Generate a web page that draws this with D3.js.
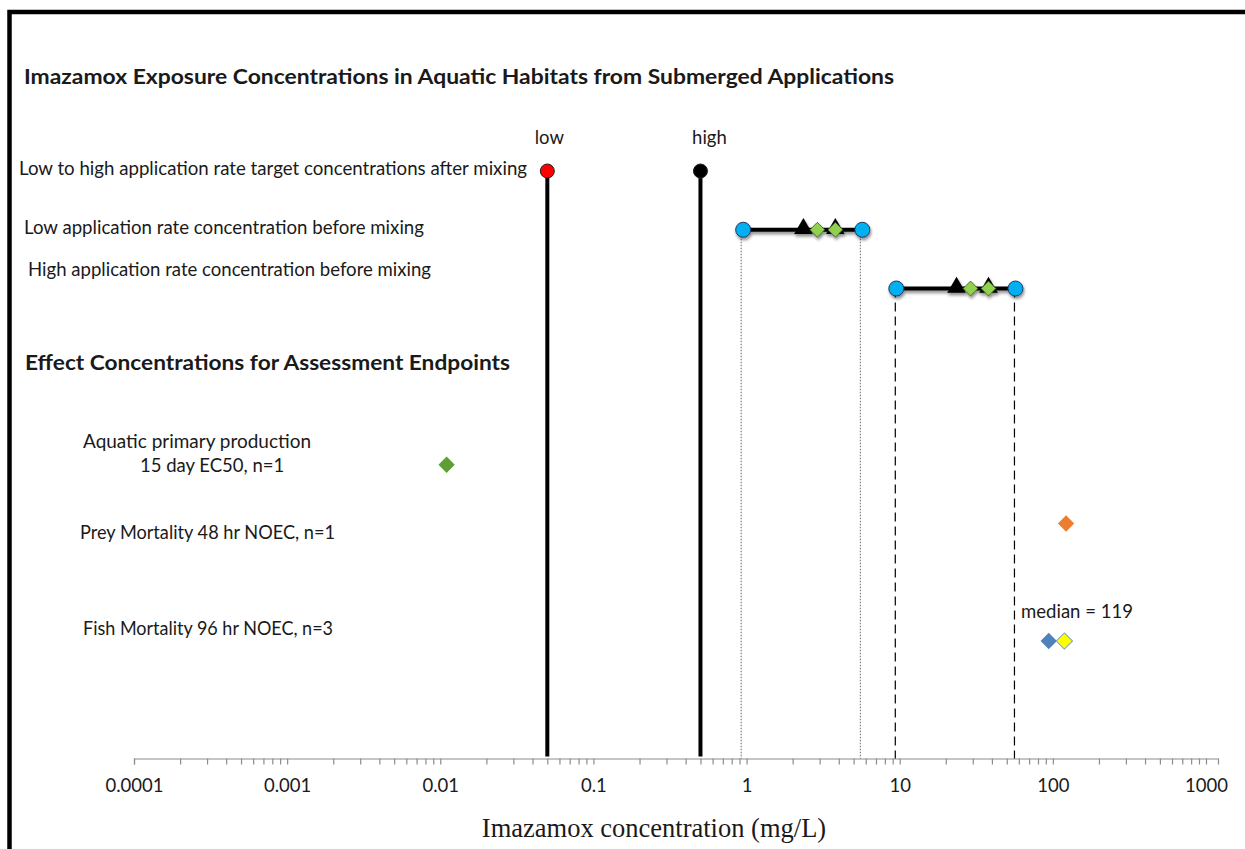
<!DOCTYPE html>
<html>
<head>
<meta charset="utf-8">
<script src="https://cdn.jsdelivr.net/npm/d3@7"></script>
<style>
  html, body { margin: 0; padding: 0; background: #fff; }
  svg { display: block; }
  .lbl { font-family: Lato, "Open Sans", sans-serif; fill: #1a1a1a; }
</style>
</head>
<body>
<svg id="chart" width="1245" height="849"></svg>
<script>
// ---- data (mg/L) ----
const rowSlots = ["target", "lowRate", "highRate", "s1", "s2", "primary", "prey", "s3", "fish", "s4", "axis"];

const targetLow = 0.05;
const targetHigh = 0.5;

const lowRateRange = [0.95, 5.7];
const lowRateTriangles = [2.35, 3.8];
const lowRateDiamonds = [2.9, 3.8];

const highRateRange = [9.5, 57];
const highRateTriangles = [23.5, 38];
const highRateDiamonds = [29, 38];

const primaryEC50 = [0.011];
const preyNOEC = [122];
const fishNOEC = [94];
const fishMedian = 119;

const majorTicks = [0.0001, 0.001, 0.01, 0.1, 1, 10, 100, 1000];
const majorTickLabels = ["0.0001", "0.001", "0.01", "0.1", "1", "10", "100", "1000"];

// ---- layout ----
const svg = d3.select("#chart");
const x = d3.scaleLog().domain([0.0001, 1198]).range([134, 1218]);
const y = d3.scalePoint().domain(rowSlots).range([171, 758.5]);
const axisY = y("axis");

// frame
svg.append("rect")
  .attr("x", 9.5).attr("y", 12)
  .attr("width", 1400).attr("height", 1000)
  .attr("fill", "none").attr("stroke", "#000").attr("stroke-width", 4.5);

// drop shadow for exposure markers
const defs = svg.append("defs");
const f = defs.append("filter").attr("id", "shadow")
  .attr("x", "-50%").attr("y", "-50%").attr("width", "200%").attr("height", "200%");
f.append("feDropShadow").attr("dx", 1).attr("dy", 2.5)
  .attr("stdDeviation", 1.4).attr("flood-color", "#000").attr("flood-opacity", 0.45);

// ---- titles and row labels ----
const txt = (s, px, py, size, width, opts = {}) => {
  const t = svg.append("text")
    .attr("class", "lbl")
    .attr("x", px).attr("y", py)
    .attr("font-size", size)
    .attr("font-weight", opts.bold ? 700 : 400)
    .attr("dominant-baseline", "central")
    .text(s);
  if (width) t.attr("textLength", width).attr("lengthAdjust", "spacingAndGlyphs");
  return t;
};

txt("Imazamox Exposure Concentrations in Aquatic Habitats from Submerged Applications", 24, 75, 21, 870, { bold: true });
txt("Low to high application rate target concentrations after mixing", 19, 168, 18.5, 508);
txt("Low application rate concentration before mixing", 24, 227, 18.5, 400);
txt("High application rate concentration before mixing", 28, 269, 18.5, 403);
txt("Effect Concentrations for Assessment Endpoints", 25, 361, 21, 485, { bold: true });
txt("Aquatic primary  production", 83, 441, 18.5, 228);
txt("15 day EC50, n=1", 140, 465, 18.5, null);
txt("Prey Mortality 48 hr NOEC, n=1", 80, 532, 18.5, 255);
txt("Fish Mortality 96 hr NOEC, n=3", 83, 628, 18.5, 250);

// ---- axis ----
const axis = d3.axisBottom(x)
  .tickValues(x.ticks())
  .tickSize(6)
  .tickSizeOuter(6)
  .tickPadding(14)
  .tickFormat(d => {
    const i = majorTicks.findIndex(m => Math.abs(Math.log10(m) - Math.log10(d)) < 1e-6);
    return i >= 0 ? majorTickLabels[i] : "";
  });

const gAxis = svg.append("g").attr("transform", `translate(0,${axisY})`).call(axis);
gAxis.select(".domain").attr("stroke", "#8c8c8c").attr("stroke-width", 1.2);
gAxis.selectAll(".tick line").attr("stroke", "#8c8c8c").attr("stroke-width", 1.2);
gAxis.selectAll(".tick text")
  .attr("font-family", "Lato, 'Open Sans', sans-serif")
  .attr("font-size", 18.5).attr("fill", "#1a1a1a");

svg.append("text")
  .attr("x", (482 + 826) / 2).attr("y", 828)
  .attr("text-anchor", "middle").attr("dominant-baseline", "central")
  .attr("font-family", "'Liberation Serif', 'DejaVu Serif', serif")
  .attr("font-size", 26.5).attr("fill", "#1a1a1a")
  .text("Imazamox concentration (mg/L)");

// ---- drop lines to axis ----
svg.selectAll(".dropLow").data(lowRateRange).join("line")
  .attr("x1", d => x(d) - 2).attr("x2", d => x(d) - 2)
  .attr("y1", y("lowRate")).attr("y2", axisY)
  .attr("stroke", "#666").attr("stroke-width", 1).attr("stroke-dasharray", "1.5,1.5");

svg.selectAll(".dropHigh").data(highRateRange).join("line")
  .attr("x1", d => x(d) - 1).attr("x2", d => x(d) - 1)
  .attr("y1", y("highRate")).attr("y2", axisY)
  .attr("stroke", "#000").attr("stroke-width", 1.2).attr("stroke-dasharray", "9,5");

// ---- target concentration stems ----
const targets = [
  { v: targetLow, fill: "#ff0000", name: "low", dx: 2 },
  { v: targetHigh, fill: "#000000", name: "high", dx: 9 }
];
svg.selectAll(".stem").data(targets).join("line")
  .attr("x1", d => x(d.v)).attr("x2", d => x(d.v))
  .attr("y1", y("target")).attr("y2", axisY - 2)
  .attr("stroke", "#000").attr("stroke-width", 4);
svg.selectAll(".stemDot").data(targets).join("circle")
  .attr("cx", d => x(d.v)).attr("cy", y("target")).attr("r", 7)
  .attr("fill", d => d.fill).attr("stroke", "#222").attr("stroke-width", 1);
svg.selectAll(".stemLbl").data(targets).join("text")
  .attr("class", "lbl")
  .attr("x", d => x(d.v) + d.dx).attr("y", 137)
  .attr("text-anchor", "middle").attr("dominant-baseline", "central")
  .attr("font-size", 18.5)
  .text(d => d.name);

// ---- application-rate ranges ----
const diamond = (side) => d3.symbol().type(d3.symbolSquare).size(side * side)();
const triangle = d3.symbol().type(d3.symbolTriangle).size(150)();

function rangeRow(key, range, tris, dias) {
  const g = svg.append("g").attr("filter", "url(#shadow)");
  const cy = y(key);
  g.append("line")
    .attr("x1", x(range[0])).attr("x2", x(range[1]))
    .attr("y1", cy).attr("y2", cy)
    .attr("stroke", "#000").attr("stroke-width", 4);
  g.selectAll(".tri").data(tris).join("path")
    .attr("d", triangle)
    .attr("transform", d => `translate(${x(d)},${cy - 1})`)
    .attr("fill", "#000");
  g.selectAll(".dia").data(dias).join("path")
    .attr("d", diamond(10.5))
    .attr("transform", d => `translate(${x(d)},${cy}) rotate(45)`)
    .attr("fill", "#92d050").attr("stroke", "#3d5a22").attr("stroke-width", 0.8);
  g.selectAll(".end").data(range).join("circle")
    .attr("cx", d => x(d)).attr("cy", cy).attr("r", 7.5)
    .attr("fill", "#00b0f0").attr("stroke", "#1f3864").attr("stroke-width", 1);
}
rangeRow("lowRate", lowRateRange, lowRateTriangles, lowRateDiamonds);
rangeRow("highRate", highRateRange, highRateTriangles, highRateDiamonds);

// ---- effect concentrations ----
function effectPoints(key, values, fill, stroke) {
  svg.selectAll(null).data(values).join("path")
    .attr("d", diamond(11.5))
    .attr("transform", d => `translate(${x(d)},${y(key)}) rotate(45)`)
    .attr("fill", fill).attr("stroke", stroke || "none").attr("stroke-width", 1);
}
effectPoints("primary", primaryEC50, "#5f9e35");
effectPoints("prey", preyNOEC, "#ed7d31");
effectPoints("fish", fishNOEC, "#4f81bd");
effectPoints("fish", [fishMedian], "#ffff00", "#6fa0d8");

svg.append("text")
  .attr("class", "lbl")
  .attr("x", 1021).attr("y", 611)
  .attr("dominant-baseline", "central")
  .attr("font-size", 18.5)
  .attr("textLength", 112).attr("lengthAdjust", "spacingAndGlyphs")
  .text(`median = ${fishMedian}`);
</script>
</body>
</html>
